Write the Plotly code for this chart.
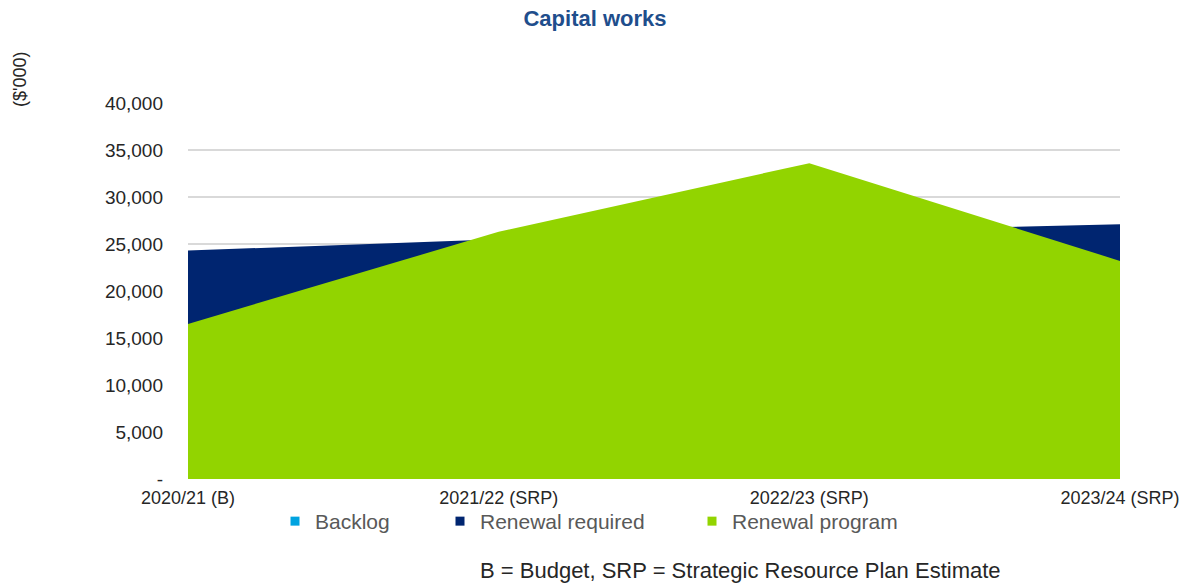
import plotly.graph_objects as go

categories = ["2020/21 (B)", "2021/22 (SRP)", "2022/23 (SRP)", "2023/24 (SRP)"]
backlog = [0, 0, 0, 0]
renewal_required = [24300, 25500, 26300, 27100]
renewal_program = [16500, 26300, 33600, 23200]

series_names = ["Backlog", "Renewal required", "Renewal program"]
series_values = [backlog, renewal_required, renewal_program]
colors = ["#00A3E0", "#002570", "#92D400"]
ytick_vals = [0, 5000, 10000, 15000, 20000, 25000, 30000, 35000, 40000]
ytick_text = ["-", "5,000", "10,000", "15,000", "20,000", "25,000", "30,000", "35,000", "40,000"]

FONT = "Liberation Sans, Arial, sans-serif"

fig = go.Figure()
legend_ids = ["legend", "legend2", "legend3"]
for name, vals, col in zip(series_names, series_values, colors):
    fig.add_trace(go.Scatter(
        x=categories, y=vals, name=name, mode="none",
        fill="tozeroy", fillcolor=col, showlegend=False,
    ))
for name, col, lg in zip(series_names, colors, legend_ids):
    fig.add_trace(go.Scatter(
        x=[None], y=[None], name=name, mode="markers",
        marker=dict(symbol="square", size=9, color=col),
        showlegend=True, legend=lg,
    ))

legend_common = dict(orientation="h", yanchor="middle", y=-0.113, xanchor="left",
                     font=dict(family=FONT, size=21, color="#595959"),
                     bgcolor="rgba(0,0,0,0)", itemwidth=30)

fig.update_layout(
    width=1186, height=586,
    margin=dict(l=188, r=66, t=103, b=107, autoexpand=False),
    paper_bgcolor="white", plot_bgcolor="white",
    title=dict(text="<b>Capital works</b>", x=(595 - 188) / 932, xref="paper", xanchor="center",
               y=0.968, yanchor="middle",
               font=dict(family=FONT, size=22, color="#1F4E8C")),
    xaxis=dict(type="category", range=[0, 3], showgrid=False, zeroline=False,
               showline=False, ticks="", automargin=False, ticklabelstandoff=6,
               tickfont=dict(family=FONT, size=18, color="#262626")),
    yaxis=dict(range=[0, 40000], tickvals=ytick_vals, ticktext=ytick_text,
               showgrid=True, gridcolor="#D9D9D9", gridwidth=2, zeroline=False,
               showline=False, ticks="", ticklabelstandoff=24, automargin=False,
               tickfont=dict(family=FONT, size=19, color="#262626")),
    legend=dict(legend_common, x=(275 - 188) / 932),
    legend2=dict(legend_common, x=(440 - 188) / 932),
    legend3=dict(legend_common, x=(692 - 188) / 932),
    annotations=[
        dict(text="($'000)", xref="paper", yref="paper", x=(20 - 188) / 932, y=(479 - 80) / 376,
             xanchor="center", yanchor="middle", textangle=-90, showarrow=False,
             font=dict(family=FONT, size=18, color="#262626")),
        dict(text="B = Budget, SRP = Strategic Resource Plan Estimate", xref="paper", yref="paper",
             x=(740 - 188) / 932, y=(479 - 570) / 376, xanchor="center", yanchor="middle",
             showarrow=False, font=dict(family=FONT, size=22, color="#262626")),
    ],
)

fig.write_html("out.html")
